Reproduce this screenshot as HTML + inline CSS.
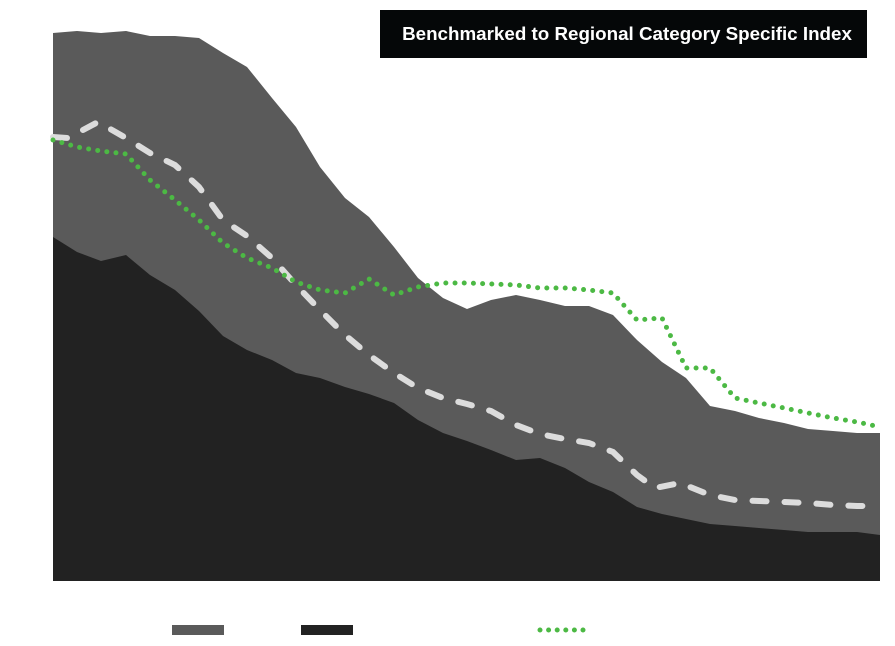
<!DOCTYPE html>
<html><head><style>
html,body{margin:0;padding:0;background:#fff;}
svg{display:block;}
</style></head><body>
<svg width="895" height="646" viewBox="0 0 895 646" xmlns="http://www.w3.org/2000/svg">
<polygon fill="#5a5a5a" points="53,581 53,33 77,31 101,33 126,31 150,36 175,36 199,38 223,53 247,67 272,98 296,127 320,167 345,198 369,217 394,247 418,278 443,298 467,309 491,300 516,295 540,300 565,306 589,306 613,315 637,340 662,362 686,378 710,406 735,411 759,418 784,423 808,429 833,431 857,433 880,433 880,581"/>
<polygon fill="#222222" points="53,581 53,237 77,252 101,261 126,255 150,275 175,290 199,311 223,336 247,350 272,360 296,373 320,378 345,387 369,394 394,403 418,420 443,433 467,441 491,450 516,460 540,458 565,468 589,482 613,492 637,507 662,514 686,519 710,524 735,526 759,528 784,530 808,532 833,532 857,532 880,535 880,581"/>
<polyline fill="none" stroke="#dcdcdc" stroke-width="6" stroke-linecap="round" stroke-dasharray="14,18" points="53,137 68,138 98,122 126,138 150,153 175,165 199,187 223,220 247,236 272,258 296,285 320,310 345,335 369,355 394,373 418,388 443,398 467,404 491,411 516,425 540,434 565,439 589,443 613,452 637,475 655,488 680,483 710,495 735,500 759,501 784,502 808,503 833,505 857,506 880,506"/>
<polyline fill="none" stroke="#4cb944" stroke-width="5" stroke-linecap="round" stroke-dasharray="0,9.2" points="53,140 77,147 101,151 126,154 150,180 175,200 199,220 223,243 247,258 272,268 296,282 320,290 345,293 369,279 394,295 418,287 443,283 467,283 491,284 516,285 540,288 565,288 589,290 613,293 637,320 662,318 686,368 710,368 735,398 759,403 784,408 808,413 833,418 857,422 880,427"/>
<rect x="380" y="10" width="487" height="48" fill="#050708"/>
<text x="627" y="40" fill="#fff" font-family="Liberation Sans, sans-serif" font-weight="bold" font-size="18.8" text-anchor="middle">Benchmarked to Regional Category Specific Index</text>
<rect x="172" y="625" width="52" height="10" fill="#5a5a5a"/>
<rect x="301" y="625" width="52" height="10" fill="#222222"/>
<line x1="540" y1="630" x2="585" y2="630" stroke="#4cb944" stroke-width="5" stroke-linecap="round" stroke-dasharray="0,8.6"/>
</svg>
</body></html>
